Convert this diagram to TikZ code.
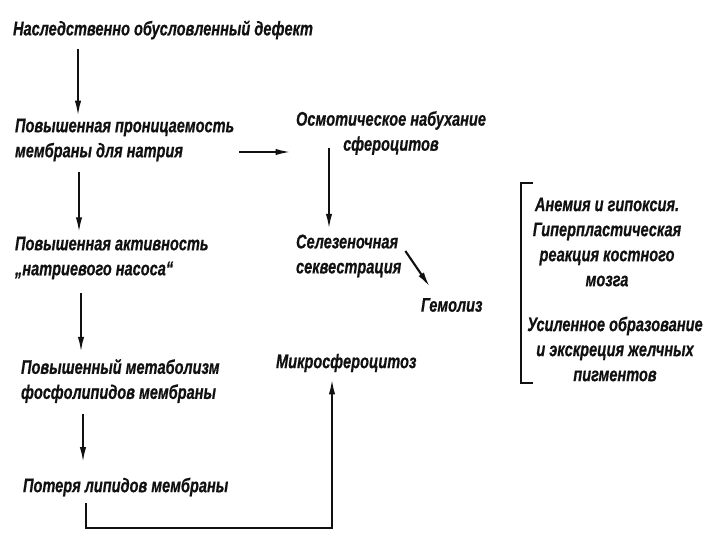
\documentclass[tikz,border=0pt]{standalone}
\usepackage{fontspec}
\setmainfont[FakeStretch=0.74, FakeBold=0.6]{Liberation Sans}
\usetikzlibrary{arrows.meta, positioning, calc}
\definecolor{cink}{HTML}{111111}
\tikzset{
  every picture/.style={font=\bfseries\itshape\fontsize{14}{17.8}\selectfont, line width=1.5pt},
  lab/.style={text=cink, inner sep=0pt, align=left},
  labc/.style={lab, align=center},
  arrow/.style={-{Latex[length=11pt, width=4.5pt]}, draw=cink, line width=1.5pt},
}
\begin{document}
\begin{tikzpicture}[x=0.025cm, y=-0.025cm]
  \useasboundingbox (0,0) rectangle (720,540);
  % left column: the chain of causes
  \node[lab, anchor=west] (defect) at (12,30) {Наследственно обусловленный дефект};
  \node[lab, anchor=west] (perm) at (14,140) {Повышенная проницаемость\\мембраны для натрия};
  \node[lab, anchor=west] (pump) at (14,258) {Повышенная активность\\„натриевого насоса“};
  \node[lab, anchor=west] (metab) at (20,381) {Повышенный метаболизм\\фосфолипидов мембраны};
  \node[lab, anchor=west] (loss) at (22,487) {Потеря липидов мембраны};
  % middle column
  \node[labc] (swell) at (391,133) {Осмотическое набухание\\сфероцитов};
  \node[lab, anchor=west] (sequ) at (295,256) {Селезеночная\\секвестрация};
  \node[lab, anchor=west] (hemol) at (420,305) {Гемолиз};
  \node[lab, anchor=west] (micro) at (275,363) {Микросфероцитоз};
  % right column: consequences of haemolysis
  \node[labc] (anem) at (607,242) {Анемия и гипоксия.\\Гиперпластическая\\реакция костного\\мозга};
  \node[labc] (bile) at (615,349) {Усиленное образование\\и экскреция желчных\\пигментов};
  \draw[cink] (533,183) -- (521,183) -- (521,383) -- (533,383);
  % arrows
  \coordinate (c1) at (78,0);
  \coordinate (c2) at (79,0);
  \coordinate (c3) at (81,0);
  \coordinate (c4) at (83,0);
  \coordinate (cm) at (329,0);
  \coordinate (cu) at (332,0);
  \coordinate (bot) at (86,528);
  \draw[arrow, shorten <=6pt, shorten >=1pt] (defect.south -| c1) -- (perm.north -| c1);
  \draw[arrow, shorten <=7pt, shorten >=2pt] (perm.south -| c2) -- (pump.north -| c2);
  \draw[arrow, shorten <=9pt, shorten >=4pt] (pump.south -| c3) -- (metab.north -| c3);
  \draw[arrow, shorten <=7pt, shorten >=10pt] (metab.south -| c4) -- (loss.north -| c4);
  \draw[arrow] ($(perm.east)+(4,12)$) -- ($(swell.west)+(-4,19)$);
  \draw[arrow, shorten >=3pt] ($(swell.south -| cm)+(0,-8)$) -- (sequ.north -| cm);
  \draw[arrow] ($(sequ.east)+(3,-5)$) -- ($(hemol.north west)+(10,-10)$);
  \draw[arrow, shorten >=4pt] ($(loss.south -| bot)+(0,6)$) -- (bot) -| (micro.south -| cu);
\end{tikzpicture}
\end{document}
